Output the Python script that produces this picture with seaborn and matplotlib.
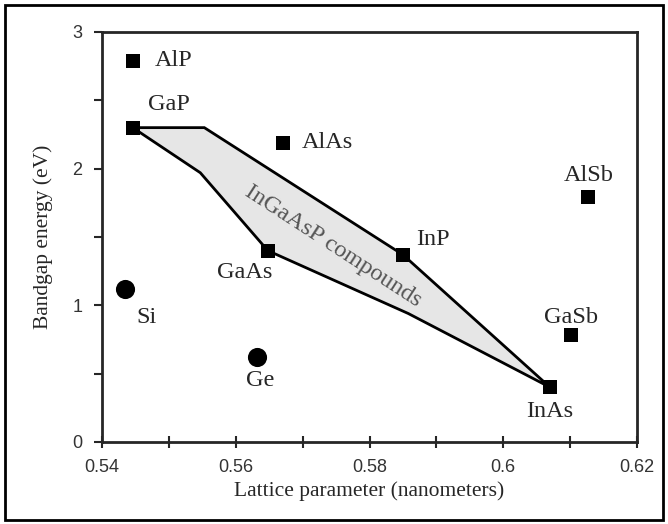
import seaborn as sns
import matplotlib.pyplot as plt
import pandas as pd
from matplotlib.patches import Rectangle

# compound semiconductors (square markers)
compounds = ["AlP", "GaP", "AlAs", "AlSb", "InP", "GaAs", "GaSb", "InAs"]
lattice = [0.5446, 0.5446, 0.5671, 0.6127, 0.5850, 0.5648, 0.6101, 0.6070]
bandgap = [2.79, 2.30, 2.19, 1.79, 1.37, 1.40, 0.78, 0.40]

# elemental semiconductors (round markers)
elements = ["Si", "Ge"]
el_lattice = [0.5434, 0.5632]
el_bandgap = [1.12, 0.62]

# InGaAsP region outline
region_x = [0.5446, 0.5553, 0.5850, 0.6070, 0.5858, 0.5648, 0.5547, 0.5446]
region_y = [2.30, 2.30, 1.37, 0.40, 0.94, 1.40, 1.97, 2.30]

# label positions
label_x = [0.5479, 0.5469, 0.5699, 0.6128, 0.5870, 0.5614, 0.6101, 0.6070]
label_y = [2.79, 2.47, 2.19, 1.95, 1.48, 1.24, 0.91, 0.22]
label_ha = ["left", "left", "left", "center", "left", "center", "center", "center"]
el_label_x = [0.5466, 0.5636]
el_label_y = [0.91, 0.45]

df = pd.DataFrame({"lattice": lattice, "bandgap": bandgap, "name": compounds})
df_el = pd.DataFrame({"lattice": el_lattice, "bandgap": el_bandgap, "name": elements})

sns.set_style("ticks")
plt.rcParams["font.family"] = ["Liberation Serif", "DejaVu Serif"]

fig = plt.figure(figsize=(6.68, 5.24), dpi=100)
ax = fig.add_axes([0.1527, 0.1565, 0.8009, 0.7825])

ax.fill(region_x, region_y, facecolor="#e6e6e6", edgecolor="black", lw=2, zorder=1)

sns.scatterplot(data=df, x="lattice", y="bandgap", marker="s", s=95, color="black",
                edgecolor="black", linewidth=0, ax=ax, zorder=3)
sns.scatterplot(data=df_el, x="lattice", y="bandgap", marker="o", s=190, color="black",
                edgecolor="black", linewidth=0, ax=ax, zorder=3)

for name, lx, ly, ha in zip(compounds, label_x, label_y, label_ha):
    ax.text(lx, ly, name, ha=ha, va="center", fontsize=17.5)
for name, lx, ly in zip(elements, el_label_x, el_label_y):
    ax.text(lx, ly, name, ha="center", va="center", fontsize=17.5)

ax.text(0.5745, 1.43, "InGaAsP compounds", rotation=-33, rotation_mode="anchor",
        ha="center", va="center", fontsize=17.5, color="#555555")

ax.set_xlim(0.54, 0.62)
ax.set_ylim(0, 3)
ax.set_xticks([0.54, 0.56, 0.58, 0.60, 0.62])
ax.set_xticklabels(["0.54", "0.56", "0.58", "0.6", "0.62"])
ax.set_xticks([0.55, 0.57, 0.59, 0.61], minor=True)
ax.set_yticks([0, 1, 2, 3])
ax.set_yticklabels(["0", "1", "2", "3"])
ax.set_yticks([0.5, 1.5, 2.5], minor=True)

for lab in ax.get_xticklabels() + ax.get_yticklabels():
    lab.set_fontfamily("Liberation Sans")
    lab.set_fontsize(13)
    lab.set_color("#333333")

ax.tick_params(axis="x", which="both", direction="inout", length=8, width=1.5, pad=8)
ax.tick_params(axis="y", which="both", direction="out", length=6, width=1.5, pad=8)
for sp in ax.spines.values():
    sp.set_linewidth(2)
    sp.set_visible(True)

ax.set_xlabel("Lattice parameter (nanometers)", fontsize=15.5, labelpad=4)
ax.set_ylabel("Bandgap energy (eV)", fontsize=15.5, labelpad=14)

fig.patches.append(Rectangle((0.008, 0.008), 0.984, 0.982, transform=fig.transFigure,
                             fill=False, edgecolor="black", lw=2))

fig.savefig("out.png", dpi=100)
